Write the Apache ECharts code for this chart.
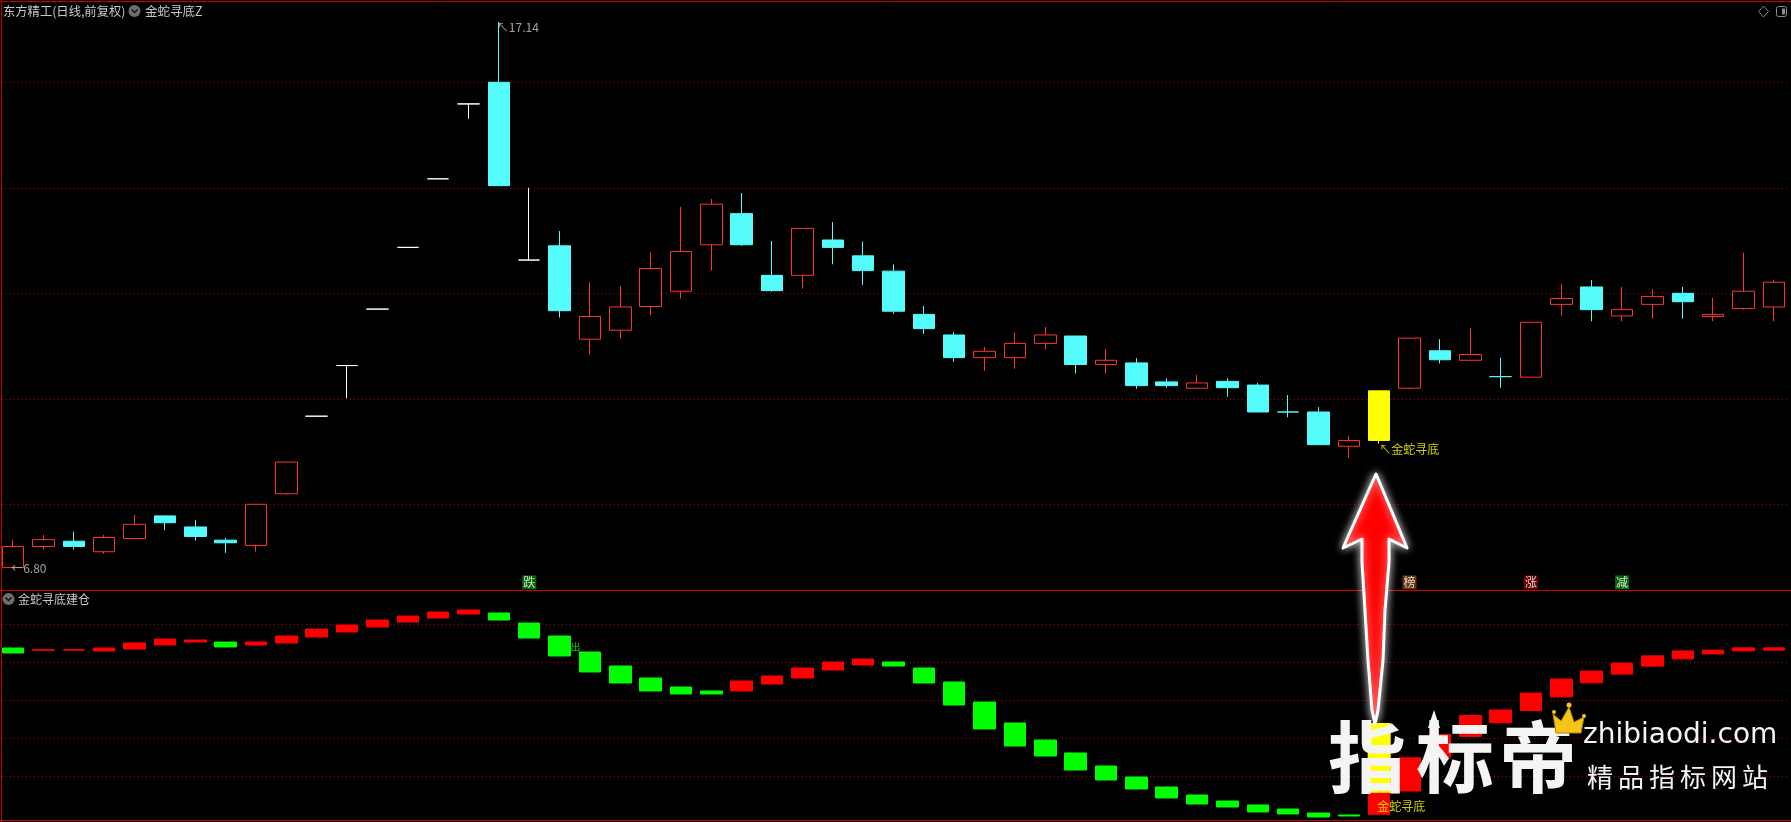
<!DOCTYPE html>
<html><head><meta charset="utf-8">
<script src="https://cdn.jsdelivr.net/npm/echarts@6/dist/echarts.min.js"></script>
<style>html,body{margin:0;padding:0;background:#000;overflow:hidden}#c{width:1791px;height:822px}</style>
</head><body><div id="c"></div>
<script>
// ---------- data ----------
const categories = ['1','2','3','4','5','6','7','8','9','10','11','12','13','14','15','16','17','18','19','20',
  '21','22','23','24','25','26','27','28','29','30','31','32','33','34','35','36','37','38','39','40',
  '41','42','43','44','45','46','47','48','49','50','51','52','53','54','55','56','57','58','59'];

const openP  = [6.80,7.20,7.30,7.10,7.35,7.78,7.57,7.32,7.22,8.20, 9.67,10.63,11.70,12.87,14.17,15.59,16.00,12.63,12.90,11.13,
  11.30,11.75,12.04,12.92,13.51,12.34,12.34,13.01,12.71,12.42, 11.60,11.21,10.78,10.78,11.05,11.19,10.65,10.68,10.32,10.20,
  10.33,10.26,9.75,9.75,9.10,9.21,10.20,10.91,10.73,10.42, 10.41,11.79,12.12,11.57,11.79,12.00,11.56,11.71,11.74];
const closeP = [7.20,7.33,7.20,7.37,7.62,7.65,7.39,7.27,8.00,8.80, 9.67,10.63,11.70,12.87,14.17,15.59,14.04,12.63,11.67,11.56,
  11.74,12.47,12.79,13.69,12.92,12.05,13.23,12.87,12.43,11.66, 11.33,10.78,10.90,11.05,11.21,10.65,10.73,10.25,10.25,10.30,
  10.21,9.75,9.75,9.13,9.21,10.15,11.15,10.74,10.84,10.42, 11.45,11.90,11.69,11.69,11.94,11.84,11.60,12.04,12.21];
const lowP   = [6.80,7.14,7.14,7.06,7.35,7.51,7.31,7.08,7.10,8.18, 9.67,10.01,11.70,12.87,14.17,15.31,14.04,12.63,11.54,10.84,
  11.14,11.58,11.90,12.43,12.90,12.03,12.09,12.55,12.16,11.61, 11.23,10.70,10.53,10.57,10.93,10.48,10.48,10.19,10.21,10.20,
  10.04,9.75,9.65,9.13,8.88,9.15,10.18,10.67,10.73,10.21, 10.41,11.58,11.47,11.47,11.52,11.52,11.47,11.69,11.47];
const highP  = [7.32,7.42,7.48,7.42,7.80,7.78,7.70,7.36,8.00,8.80, 9.67,10.63,11.70,12.87,14.17,15.59,17.14,14.00,13.18,12.21,
  12.14,12.78,13.64,13.79,13.90,12.99,13.23,13.35,12.98,12.55, 11.76,11.26,10.98,11.25,11.36,11.19,10.94,10.77,10.39,10.45,
  10.39,10.30,10.07,9.84,9.30,10.15,11.15,11.13,11.34,10.78, 11.45,12.18,12.25,12.12,12.08,12.12,11.91,12.77,12.25];

const whiteIdx = [10,11,12,13,14,15,17];   // flat (open == close) candles drawn white
const cyanDojiIdx = [42,49];               // crosses drawn cyan
const signalIdx = 45;                      // 金蛇寻底 signal candle (yellow)

const subOpen  = [43.76,43.17,43.20,42.97,43.50,44.55,45.34,45.34,44.55,45.08, 46.66,47.97,49.29,50.61,51.66,52.71,52.97,50.34,46.92,42.71,
  39.03,35.87,33.50,32.45,32.45,34.29,35.87,37.97,39.29,40.08, 38.50,34.82,29.55,24.03,19.55,16.13,12.71,9.82,7.18,5.08,
  3.50,2.45,1.39,0.34,-0.18,0.00,6.13,15.0,20.5,24.1, 27.3,30.9,34.6,36.9,39.0,40.9,42.2,43.0,43.2];
const subClose = [42.45,43.30,43.35,43.76,45.08,46.13,45.87,44.03,45.34,46.92, 48.76,49.82,51.13,52.18,53.24,53.76,51.13,46.39,41.66,37.45,
  34.55,32.45,31.66,31.66,35.08,36.39,38.50,40.08,40.87,39.03, 34.55,28.76,22.45,17.97,15.34,11.66,9.03,6.66,4.29,2.71,
  1.92,0.61,0.08,-0.71,-0.45,5.53,14.89,21.0,26.0,27.45, 31.9,35.6,37.7,39.8,41.7,43.0,43.2,43.8,43.8];
const yellowStickLow = 5.53, yellowStickHigh = 24.03;

const priceGridLevels = [8,10,12,14,16];
const subGridLevels = [10,20,30,40,50];

const priceNotes = [
  {i:16, p:17.14, text:'↖17.14', kind:'top'},
  {i:0,  p:6.80,  text:'←6.80', kind:'mid'},
  {i:45, p:9.15,  text:'↖金蛇寻底', kind:'sig'}
];
const signalMarks = [
  {i:17, text:'跌', bg:'#0a7d0a'},
  {i:46, text:'榜', bg:'#7c4110'},
  {i:50, text:'涨', bg:'#860000'},
  {i:53, text:'减', bg:'#0a7d0a'}
];
const signalMarkLevel = 6.52;
const subNotes = [
  {i:18, v:44.0, text:'出', kind:'out'},
  {i:45, v:2.05, text:'金蛇寻底', kind:'sig'}
];

// ---------- build ----------
const RED = '#ff3232', CYAN = '#54fcfc';
const mainData = categories.map((_, i) => {
  const it = { value: [openP[i], closeP[i], lowP[i], highP[i]] };
  let c = null;
  if (whiteIdx.includes(i)) c = '#ffffff';
  else if (cyanDojiIdx.includes(i)) c = CYAN;
  else if (i === signalIdx) c = '#ffff00';
  if (c) it.itemStyle = {color:c, color0:c, borderColor:c, borderColor0:c};
  return it;
});
const subData = categories.map((_, i) => [subOpen[i], subClose[i], Math.min(subOpen[i], subClose[i]), Math.max(subOpen[i], subClose[i])]);
const yBase = categories.map((_, i) => i === signalIdx ? yellowStickLow : null);
const yLen  = categories.map((_, i) => i === signalIdx ? yellowStickHigh - yellowStickLow : null);

const dotted = {type:[1,3], color:'#b00000', width:1};
const FONT = '"Noto Sans CJK SC", "Noto Sans", sans-serif';

const noteStyle = {
  top: {color:'#c8c8c8', verticalAlign:'top', offset:[-2,-1]},
  mid: {color:'#c8c8c8', verticalAlign:'middle', offset:[-2,1]},
  sig: {color:'#ffff00', verticalAlign:'top', offset:[0,0]}
};

const wmText = (ch, x, y, size) => ({type:'text', z:21, x:x, y:y,
  style:{text:ch, fill:'#f4f4f2', font:(size > 40 ? 'bold ' : '') + size + 'px ' + FONT, align:'center', verticalAlign:'middle',
    shadowBlur:6, shadowColor:'rgba(0,0,0,0.95)'}});

const chart = echarts.init(document.getElementById('c'), null, {renderer:'canvas'});
const option = {
  backgroundColor: '#000',
  animation: false,
  grid: [
    {left:-2, right:2, top:2, height:588, outerBoundsMode:'none'},
    {left:-2, right:2, top:590, height:230, outerBoundsMode:'none'}
  ],
  xAxis: [
    {type:'category', gridIndex:0, data:categories, boundaryGap:true, show:false},
    {type:'category', gridIndex:1, data:categories, boundaryGap:true, show:false}
  ],
  yAxis: [
    {type:'value', gridIndex:0, min:6.375, max:17.522, show:false, splitLine:{show:false}},
    {type:'value', gridIndex:1, min:-1.5, max:59.03, show:false, splitLine:{show:false}}
  ],
  series: [
    {
      type:'candlestick', xAxisIndex:0, yAxisIndex:0, barWidth:22, z:3,
      itemStyle:{color:'#000000', color0:CYAN, borderColor:RED, borderColor0:CYAN, borderWidth:1},
      data: mainData,
      markLine:{silent:true, symbol:['none','none'], label:{show:false}, lineStyle:dotted,
        data: priceGridLevels.map(v => ({yAxis:v})), z:1}
    },
    {
      type:'candlestick', xAxisIndex:1, yAxisIndex:1, barWidth:22, z:3,
      itemStyle:{color:'#ff0000', color0:'#00ff00', borderColor:'#ff0000', borderColor0:'#00ff00', borderWidth:1},
      data: subData,
      markLine:{silent:true, symbol:['none','none'], label:{show:false}, lineStyle:dotted,
        data: subGridLevels.map(v => ({yAxis:v})), z:1}
    },
    {type:'bar', xAxisIndex:1, yAxisIndex:1, stack:'ys', barWidth:23, itemStyle:{color:'transparent'}, data:yBase, z:2},
    {type:'bar', xAxisIndex:1, yAxisIndex:1, stack:'ys', barWidth:23, itemStyle:{color:'#ffff00'}, data:yLen, z:2},
    {
      type:'scatter', xAxisIndex:0, yAxisIndex:0, symbolSize:0, z:5,
      data: priceNotes.map(n => ({value:[n.i, n.p], label:Object.assign({show:true, formatter:n.text, position:'inside',
        align:'left', fontSize:12, fontFamily:FONT}, noteStyle[n.kind])}))
    },
    {
      type:'scatter', xAxisIndex:0, yAxisIndex:0, symbol:'rect', symbolSize:[14,14], z:5,
      data: signalMarks.map(s => ({value:[s.i, signalMarkLevel], itemStyle:{color:s.bg},
        label:{show:true, formatter:s.text, position:'inside', color:'#ffffff', fontSize:12, fontFamily:FONT}}))
    },
    {
      type:'scatter', xAxisIndex:1, yAxisIndex:1, symbolSize:0, z:5,
      data: subNotes.map(n => ({value:[n.i, n.v], label: n.kind === 'out'
        ? {show:true, formatter:n.text, position:'inside', align:'left', verticalAlign:'middle', offset:[11,0], color:'#00ff00', fontSize:10, fontFamily:FONT}
        : {show:true, formatter:n.text, position:'inside', align:'left', verticalAlign:'middle', offset:[-2,0], color:'#ffff00', fontSize:12, fontFamily:FONT}}))
    }
  ],
  graphic: [
    // frame
    {type:'line', shape:{x1:0,y1:1.5,x2:1791,y2:1.5}, style:{stroke:'#c00000', lineWidth:1}, z:10},
    {type:'line', shape:{x1:1.5,y1:0,x2:1.5,y2:822}, style:{stroke:'#c00000', lineWidth:1}, z:10},
    {type:'line', shape:{x1:0,y1:590.5,x2:1791,y2:590.5}, style:{stroke:'#d00000', lineWidth:1}, z:10},
    {type:'line', shape:{x1:0,y1:820.5,x2:1791,y2:820.5}, style:{stroke:'#d00000', lineWidth:1}, z:10},
    // top-left titles
    {type:'text', x:3, y:11, style:{text:'东方精工(日线,前复权)', fill:'#c8c8c8', font:'12.3px '+FONT, verticalAlign:'middle'}, z:10},
    {type:'circle', shape:{cx:134.5, cy:11, r:6}, style:{fill:'#6e6e6e'}, z:10},
    {type:'polyline', shape:{points:[[131.5,9.5],[134.5,12.5],[137.5,9.5]]}, style:{stroke:'#111', lineWidth:1.5, fill:null}, z:11},
    {type:'text', x:145, y:11, style:{text:'金蛇寻底Z', fill:'#c8c8c8', font:'12.5px '+FONT, verticalAlign:'middle'}, z:10},
    {type:'circle', shape:{cx:8.5, cy:599, r:6}, style:{fill:'#6e6e6e'}, z:10},
    {type:'polyline', shape:{points:[[5.5,597.5],[8.5,600.5],[11.5,597.5]]}, style:{stroke:'#111', lineWidth:1.5, fill:null}, z:11},
    {type:'text', x:18, y:599, style:{text:'金蛇寻底建仓', fill:'#c8c8c8', font:'12px '+FONT, verticalAlign:'middle'}, z:10},
    // top-right icons
    {type:'polygon', shape:{points:[[1763.5,6],[1768.5,11.5],[1763.5,17],[1758.5,11.5]]}, style:{stroke:'#8a8a8a', fill:null, lineWidth:1}, z:10},
    {type:'rect', shape:{x:1776.5, y:6.5, width:10, height:10, r:2}, style:{stroke:'#8a8a8a', fill:null, lineWidth:1}, z:10},
    {type:'rect', shape:{x:1782, y:8.5, width:3, height:6}, style:{fill:'#8a8a8a'}, z:10},
    // watermark arrow
    {type:'polygon', z:20, shape:{points:[[1376,474],[1407,548],[1389,539],[1389,562],[1385,610],[1383,660],[1378,710],[1375,724],
      [1372,710],[1368,660],[1365,610],[1362,562],[1362,539],[1343,548]]},
      style:{fill:'#ff0000', stroke:'#ffffff', lineWidth:3, lineJoin:'round', shadowBlur:8, shadowColor:'rgba(255,255,255,0.8)'}},
    // watermark logo
    wmText('指', 1367, 757, 78),
    wmText('标', 1455, 757, 78),
    wmText('帝', 1538, 757, 78),
    {type:'polygon', z:22, shape:{points:[[1428,728],[1434,710],[1440,728]]}, style:{fill:'#f4f4f2'}},
    {type:'polygon', z:22, shape:{points:[[1556,733],[1553,714],[1561,721],[1569,707],[1574,722],[1584,717],[1581,733]]},
      style:{fill:'#f5c518', stroke:'#b08000', lineWidth:1}},
    {type:'circle', z:22, shape:{cx:1569, cy:705, r:2.5}, style:{fill:'#f5c518'}},
    {type:'circle', z:22, shape:{cx:1554, cy:712, r:2}, style:{fill:'#f5c518'}},
    {type:'circle', z:22, shape:{cx:1584, cy:716, r:2}, style:{fill:'#f5c518'}},
    {type:'text', z:21, x:1583, y:736, style:{text:'zhibiaodi.com', fill:'#f4f4f2', font:'28px "DejaVu Sans", sans-serif', verticalAlign:'middle', shadowBlur:4, shadowColor:'rgba(0,0,0,0.95)'}},
    wmText('精', 1600, 777, 26),
    wmText('品', 1631, 777, 26),
    wmText('指', 1662, 777, 26),
    wmText('标', 1693, 777, 26),
    wmText('网', 1724, 777, 26),
    wmText('站', 1755, 777, 26)
  ]
};
chart.setOption(option);
</script>
</body></html>
